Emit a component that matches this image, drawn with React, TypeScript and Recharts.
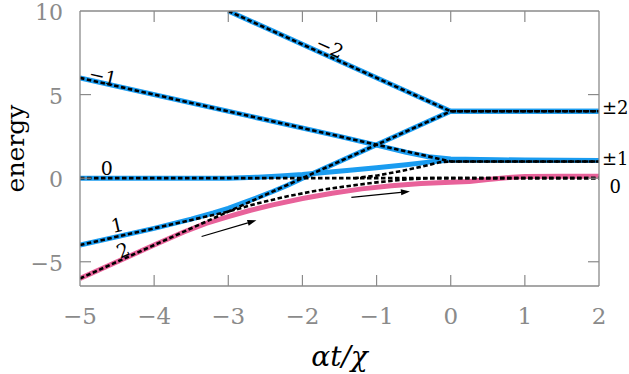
import React from "react";
import { LineChart, Line, XAxis, YAxis, ReferenceDot, ReferenceLine } from "recharts";

// ---- colored (thick) curves ----
const blueM2X = [-3, 0, 2];
const blueM2Y = [10, 4, 4];
const blueM1X = [-5, -1.5, -1, -0.6, -0.3, 0, 1, 2];
const blueM1Y = [6, 2.5, 1.98, 1.55, 1.28, 1.15, 1.08, 1.05];
const blueZeroX = [-5, -3, -2.6, -2.3, -2, -1.7, -1.4, -1, -0.6, -0.3, 0, 1, 2];
const blueZeroY = [0, 0, 0.06, 0.13, 0.22, 0.34, 0.46, 0.62, 0.8, 0.96, 1.08, 1.06, 1.05];
const blueOneX = [-5, -4, -3.5, -3.2, -3, -2.8, -2.6, -2.4, -2.2, -2, 0, 2];
const blueOneY = [-4, -3, -2.45, -2.08, -1.8, -1.48, -1.15, -0.8, -0.42, 0, 4, 4];
const pinkX = [-5, -4, -3.6, -3.3, -3, -2.7, -2.4, -2, -1.6, -1.2, -0.8, -0.4, 0, 0.25, 0.5, 0.75, 1, 1.5, 2];
const pinkY = [-6, -4, -3.22, -2.7, -2.3, -1.92, -1.6, -1.22, -0.9, -0.64, -0.45, -0.32, -0.25, -0.2, -0.08, 0.03, 0.1, 0.12, 0.12];

// ---- dashed curves ----
const dashM2X = [-3, 0, 2];
const dashM2Y = [10, 4, 4];
const dashM1X = [-5, 0, 2];
const dashM1Y = [6, 1, 1];
const dashZeroX = [-5, 2];
const dashZeroY = [0, 0];
const dashTwoX = [-5, 0, 2];
const dashTwoY = [-6, 4, 4];
const dashLowX = [-5, -3, -2.6, -2.2, -1.8, -1.4, -1, -0.6, -0.3, 2];
const dashLowY = [-4, -2, -1.5, -1.08, -0.74, -0.48, -0.25, -0.07, 0, 0];
const dashUpX = [-1.3, -1, -0.7, -0.4, -0.15, 0, 2];
const dashUpY = [0, 0.15, 0.4, 0.68, 0.95, 1, 1];

// ---- ticks ----
const xTicks = [-5, -4, -3, -2, -1, 0, 1, 2];
const yTicks = [-5, 0, 5, 10];
const xDomain = [-5, 2];
const yDomain = [-6.45, 10];

// ---- text labels ----
const lineLabelText = ["\u22122", "\u22121", "0", "1", "2"];
const lineLabelX = [-1.63, -4.69, -4.64, -4.5, -4.42];
const lineLabelY = [7.85, 6.11, 0.61, -2.8, -4.29];
const lineLabelAngle = [24, 12.6, 0, -12.6, -24];
const rightLabelText = ["\u00b12", "\u00b11", "0"];
const rightLabelX = [2.04, 2.04, 2.14];
const rightLabelY = [4.2, 1.15, -0.47];

// ---- arrows ----
const arrowX1 = [-3.36, -1.34];
const arrowY1 = [-3.49, -1.15];
const arrowX2 = [-2.62, -0.55];
const arrowY2 = [-2.52, -0.79];

const zip = (xs: number[], ys: number[]) => xs.map((x, i) => ({ x, y: ys[i] }));

const BLUE = "#1a9cf0";
const PINK = "#e8629a";
const GRAY = "#8a8a8a";
const FONT = "DejaVu Serif";

const fmt = (v: number) => (v < 0 ? "\u2212" + Math.abs(v) : String(v));

const BottomTick = (p: any) => {
  const v = p.payload.value;
  const edge = v === xDomain[0] || v === xDomain[1];
  return (
    <g>
      {!edge && <line x1={p.x} y1={p.y} x2={p.x} y2={p.y - 11} stroke={GRAY} strokeWidth={1.2} />}
      <text x={p.x} y={p.y + 38} textAnchor="middle" fill={GRAY} fontFamily={FONT} fontSize={23}>
        {fmt(v)}
      </text>
    </g>
  );
};
const TopTick = (p: any) => {
  const v = p.payload.value;
  const edge = v === xDomain[0] || v === xDomain[1];
  return <g>{!edge && <line x1={p.x} y1={p.y} x2={p.x} y2={p.y + 11} stroke={GRAY} strokeWidth={1.2} />}</g>;
};
const LeftTick = (p: any) => {
  const v = p.payload.value;
  return (
    <g>
      {v !== 10 && <line x1={p.x} y1={p.y} x2={p.x + 11} y2={p.y} stroke={GRAY} strokeWidth={1.2} />}
      <text x={p.x - 17} y={p.y + 9} textAnchor="end" fill={GRAY} fontFamily={FONT} fontSize={22}>
        {fmt(v)}
      </text>
    </g>
  );
};
const RightTick = (p: any) => {
  const v = p.payload.value;
  return <g>{v !== 10 && <line x1={p.x} y1={p.y} x2={p.x - 11} y2={p.y} stroke={GRAY} strokeWidth={1.2} />}</g>;
};

const Arrow = (p: any) => {
  const { x1, y1, x2, y2 } = p;
  const ang = Math.atan2(y2 - y1, x2 - x1);
  const L = 9, W = 3;
  const bx = x2 - L * Math.cos(ang), by = y2 - L * Math.sin(ang);
  const nx = -Math.sin(ang) * W, ny = Math.cos(ang) * W;
  return (
    <g>
      <line x1={x1} y1={y1} x2={bx} y2={by} stroke="#000" strokeWidth={1.2} />
      <polygon points={`${x2},${y2} ${bx + nx},${by + ny} ${bx - nx},${by - ny}`} fill="#000" />
    </g>
  );
};

export default function App() {
  const colored = [
    { d: zip(blueM2X, blueM2Y), c: BLUE },
    { d: zip(blueM1X, blueM1Y), c: BLUE },
    { d: zip(blueZeroX, blueZeroY), c: BLUE },
    { d: zip(blueOneX, blueOneY), c: BLUE },
    { d: zip(pinkX, pinkY), c: PINK },
  ];
  const dashed = [
    zip(dashM2X, dashM2Y),
    zip(dashM1X, dashM1Y),
    zip(dashZeroX, dashZeroY),
    zip(dashTwoX, dashTwoY),
    zip(dashLowX, dashLowY),
    zip(dashUpX, dashUpY),
  ];
  return (
    <div style={{ position: "absolute", left: 0, top: 0 }}>
      <LineChart width={629} height={374} margin={{ top: 0, right: 0, bottom: 0, left: 0 }}>
        <XAxis
          xAxisId="b"
          type="number"
          dataKey="x"
          domain={xDomain}
          ticks={xTicks}
          allowDataOverflow
          height={88}
          tickSize={0}
          tickMargin={0}
          tickLine={false}
          axisLine={{ stroke: GRAY, strokeWidth: 1.3 }}
          tick={<BottomTick />}
          interval={0}
          label={{
            content: (lp: any) => {
              const vb = lp.viewBox;
              return (
                <text x={vb.x + vb.width / 2} y={vb.y + 80} textAnchor="middle" fontFamily={FONT} fontStyle="italic" fontSize={28} fill="#000">
                  αt/χ
                </text>
              );
            },
          }}
        />
        <XAxis
          xAxisId="t"
          orientation="top"
          type="number"
          dataKey="x"
          domain={xDomain}
          ticks={xTicks}
          allowDataOverflow
          height={11}
          tickSize={0}
          tickMargin={0}
          tickLine={false}
          axisLine={{ stroke: GRAY, strokeWidth: 1.3 }}
          tick={<TopTick />}
          interval={0}
        />
        <YAxis
          yAxisId="l"
          type="number"
          domain={yDomain}
          ticks={yTicks}
          allowDataOverflow
          width={80}
          tickSize={0}
          tickMargin={0}
          tickLine={false}
          axisLine={{ stroke: GRAY, strokeWidth: 1.3 }}
          tick={<LeftTick />}
          interval={0}
          label={{
            content: (lp: any) => {
              const vb = lp.viewBox;
              const cx = vb.x + 24;
              const cy = vb.y + vb.height / 2;
              return (
                <text x={cx} y={cy} transform={`rotate(-90 ${cx} ${cy})`} textAnchor="middle" fontFamily={FONT} fontSize={25} fill="#000">
                  energy
                </text>
              );
            },
          }}
        />
        <YAxis
          yAxisId="r"
          orientation="right"
          type="number"
          domain={yDomain}
          ticks={yTicks}
          allowDataOverflow
          width={30}
          tickSize={0}
          tickMargin={0}
          tickLine={false}
          axisLine={{ stroke: GRAY, strokeWidth: 1.3 }}
          tick={<RightTick />}
          interval={0}
        />
        {colored.map((s, i) => (
          <Line
            key={"c" + i}
            xAxisId="b"
            yAxisId="l"
            data={s.d}
            dataKey="y"
            type="linear"
            stroke={s.c}
            strokeWidth={5}
            strokeLinejoin="round"
            dot={false}
            activeDot={false}
            isAnimationActive={false}
          />
        ))}
        {dashed.map((d, i) => (
          <Line
            key={"d" + i}
            xAxisId="b"
            yAxisId="l"
            data={d}
            dataKey="y"
            type="linear"
            stroke="#000"
            strokeWidth={2.6}
            strokeDasharray="4.5 2.5"
            dot={false}
            activeDot={false}
            isAnimationActive={false}
          />
        ))}
        {arrowX1.map((x, i) => (
          <ReferenceLine
            key={"a" + i}
            xAxisId="b"
            yAxisId="l"
            segment={[
              { x, y: arrowY1[i] },
              { x: arrowX2[i], y: arrowY2[i] },
            ]}
            ifOverflow="visible"
            shape={<Arrow />}
          />
        ))}
        {lineLabelText.map((t, i) => (
          <ReferenceDot
            key={"ll" + i}
            xAxisId="b"
            yAxisId="l"
            x={lineLabelX[i]}
            y={lineLabelY[i]}
            r={0}
            ifOverflow="visible"
            shape={(p: any) => (
              <text
                x={p.cx}
                y={p.cy}
                transform={`rotate(${lineLabelAngle[i]} ${p.cx} ${p.cy})`}
                textAnchor="middle"
                dominantBaseline="central"
                fontFamily={FONT}
                fontSize={19}
                fill="#000"
              >
                {t}
              </text>
            )}
          />
        ))}
        {rightLabelText.map((t, i) => (
          <ReferenceDot
            key={"rl" + i}
            xAxisId="b"
            yAxisId="l"
            x={rightLabelX[i]}
            y={rightLabelY[i]}
            r={0}
            ifOverflow="visible"
            shape={(p: any) => (
              <text x={p.cx} y={p.cy} textAnchor="start" dominantBaseline="central" fontFamily={FONT} fontSize={18} fill="#000">
                {t}
              </text>
            )}
          />
        ))}
      </LineChart>
    </div>
  );
}
